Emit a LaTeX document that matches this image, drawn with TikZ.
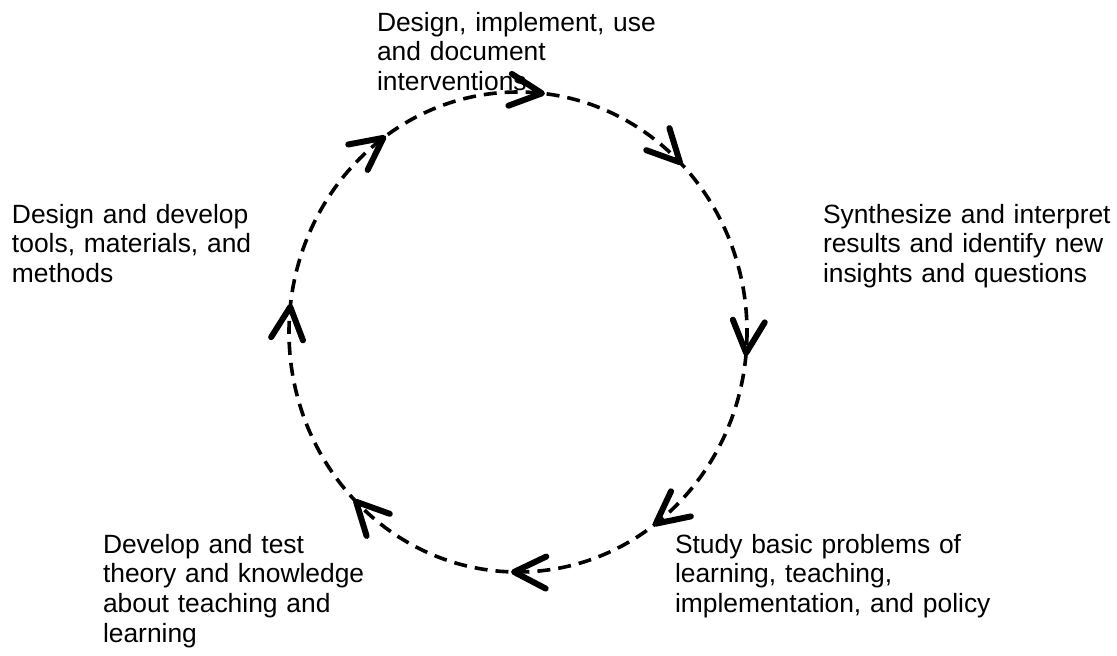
\documentclass[tikz,border=0pt]{standalone}
\usepackage{fontspec}
\setmainfont{Liberation Sans}
\begin{document}
\begin{tikzpicture}[x=1pt,y=-1pt,
  lbl/.style={anchor=base west,inner sep=0pt,outer sep=0pt,text width=320pt,align=left,
    font=\fontsize{26.4}{29.7}\selectfont},
  cyc/.style={line width=3.6pt,dash pattern=on 13pt off 8pt},
  chev/.style={line width=6pt,line cap=round,line join=round}]
\useasboundingbox (0,0) rectangle (1117,656);
\fill[white] (0,0) rectangle (1117,656);
% labels
\node[lbl] (top) at (377,31) {Design, implement, use\\and document\\interventions};
\node[lbl] (right) at (823,223) {Synthesize and interpret\\results and identify new\\insights and questions};
\node[lbl] (lr) at (675,553) {Study basic problems of\\learning, teaching,\\implementation, and policy};
\node[lbl] (ll) at (103,553) {Develop and test\\theory and knowledge\\about teaching and\\learning};
\node[lbl] (left) at (12,223) {Design and develop\\tools, materials, and\\methods};
% cycle
\coordinate (c) at (518,332);
\draw[cyc] (c) ellipse [x radius=229, y radius=240];
% chevrons
\foreach \t in {84,45,-5,-53,-91,-135,174,126} {
  \pgfmathsetmacro\px{518+229*cos(\t)}
  \pgfmathsetmacro\py{332-240*sin(\t)}
  \pgfmathsetmacro\ux{2.29*sin(\t)}
  \pgfmathsetmacro\uy{2.40*cos(\t)}
  \pgfmathsetmacro\nn{sqrt(\ux*\ux+\uy*\uy)}
  \pgfmathsetmacro\ax{\ux/\nn}
  \pgfmathsetmacro\ay{\uy/\nn}
  \coordinate (tip) at (\px,\py);
  \coordinate (armA) at ({\px-32*\ax-16*\ay},{\py-32*\ay+16*\ax});
  \coordinate (armB) at ({\px-32*\ax+16*\ay},{\py-32*\ay-16*\ax});
  \draw[chev] (armA) -- (tip) -- (armB);
}
\end{tikzpicture}
\end{document}
